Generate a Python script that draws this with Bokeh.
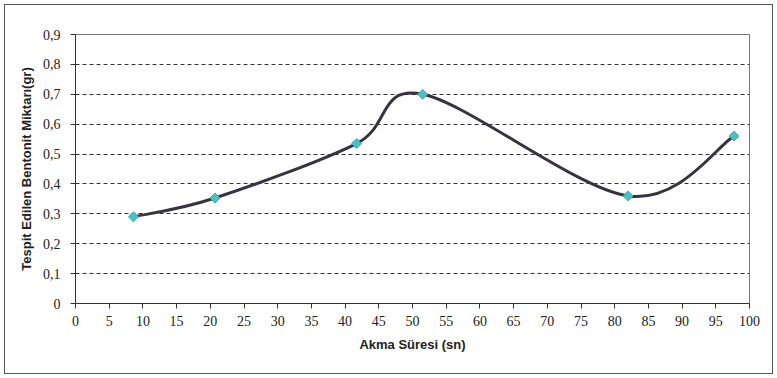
from bokeh.plotting import figure
from bokeh.models import Range1d, FixedTicker, CustomJSTickFormatter
from bokeh.embed import file_html
from bokeh.resources import INLINE

# data
akma_suresi = [8.6, 20.7, 41.7, 51.5, 82.0, 97.7]
bentonit = [0.29, 0.353, 0.535, 0.70, 0.36, 0.56]
x_ticks = list(range(0, 101, 5))
y_ticks = [0, 0.1, 0.2, 0.3, 0.4, 0.5, 0.6, 0.7, 0.8, 0.9]

p = figure(width=777, height=378, output_backend="svg", toolbar_location=None,
           x_range=Range1d(0, 100), y_range=Range1d(0, 0.9),
           min_border_left=75, min_border_right=28, min_border_top=34, min_border_bottom=75)
p.background_fill_color = "white"
p.border_fill_color = None
p.outline_line_color = "#777777"
p.outline_line_width = 1
# outer chart border
p.styles = {"outline": "1.5px solid #555555", "outline-offset": "-5px",
            "background-color": "white"}

# axes
p.axis.axis_line_color = "#333333"
p.axis.major_tick_line_color = "#333333"
p.axis.minor_tick_line_color = None
p.axis.major_tick_in = 0
p.axis.major_tick_out = 5
p.axis.major_label_text_font = "Liberation Serif"
p.axis.major_label_text_font_size = "14px"
p.axis.major_label_text_color = "#222222"
p.axis.axis_label_text_font = "Liberation Sans"
p.axis.axis_label_text_font_style = "bold"
p.axis.axis_label_text_font_size = "13px"
p.axis.axis_label_text_color = "#222222"

p.xaxis.ticker = FixedTicker(ticks=x_ticks)
p.yaxis.ticker = FixedTicker(ticks=y_ticks)
p.yaxis.formatter = CustomJSTickFormatter(
    code="return tick == 0 ? '0' : tick.toFixed(1).replace('.', ',');")
p.xaxis.axis_label = "Akma Süresi (sn)"
p.yaxis.axis_label = "Tespit Edilen Bentonit Miktarı(gr)"
p.xaxis.major_label_standoff = 7
p.xaxis.axis_label_standoff = 8
p.yaxis.major_label_standoff = 10
p.yaxis.axis_label_standoff = 6

p.xgrid.grid_line_color = None
p.ygrid.grid_line_color = "#333333"
p.ygrid.grid_line_dash = "4 3"
p.ygrid.grid_line_width = 1

# smoothed line (Catmull-Rom style bezier segments built from the data)
n = len(akma_suresi)
x0, y0, x1, y1, cx0, cy0, cx1, cy1 = [], [], [], [], [], [], [], []
for i in range(n - 1):
    xp = akma_suresi[i - 1] if i > 0 else akma_suresi[i]
    yp = bentonit[i - 1] if i > 0 else bentonit[i]
    xn = akma_suresi[i + 2] if i + 2 < n else akma_suresi[i + 1]
    yn = bentonit[i + 2] if i + 2 < n else bentonit[i + 1]
    x0.append(akma_suresi[i]); y0.append(bentonit[i])
    x1.append(akma_suresi[i + 1]); y1.append(bentonit[i + 1])
    cx0.append(akma_suresi[i] + (akma_suresi[i + 1] - xp) / 6)
    cy0.append(bentonit[i] + (bentonit[i + 1] - yp) / 6)
    cx1.append(akma_suresi[i + 1] - (xn - akma_suresi[i]) / 6)
    cy1.append(bentonit[i + 1] - (yn - bentonit[i]) / 6)
p.bezier(x0=x0, y0=y0, x1=x1, y1=y1, cx0=cx0, cy0=cy0, cx1=cx1, cy1=cy1,
         line_color="#3a3240", line_width=3)

p.scatter(akma_suresi, bentonit, marker="square", angle=0.785, size=7,
          fill_color="#4cc0c4", line_color="#3aa9b0", line_width=1)

open("out.html", "w").write(file_html(p, INLINE))
